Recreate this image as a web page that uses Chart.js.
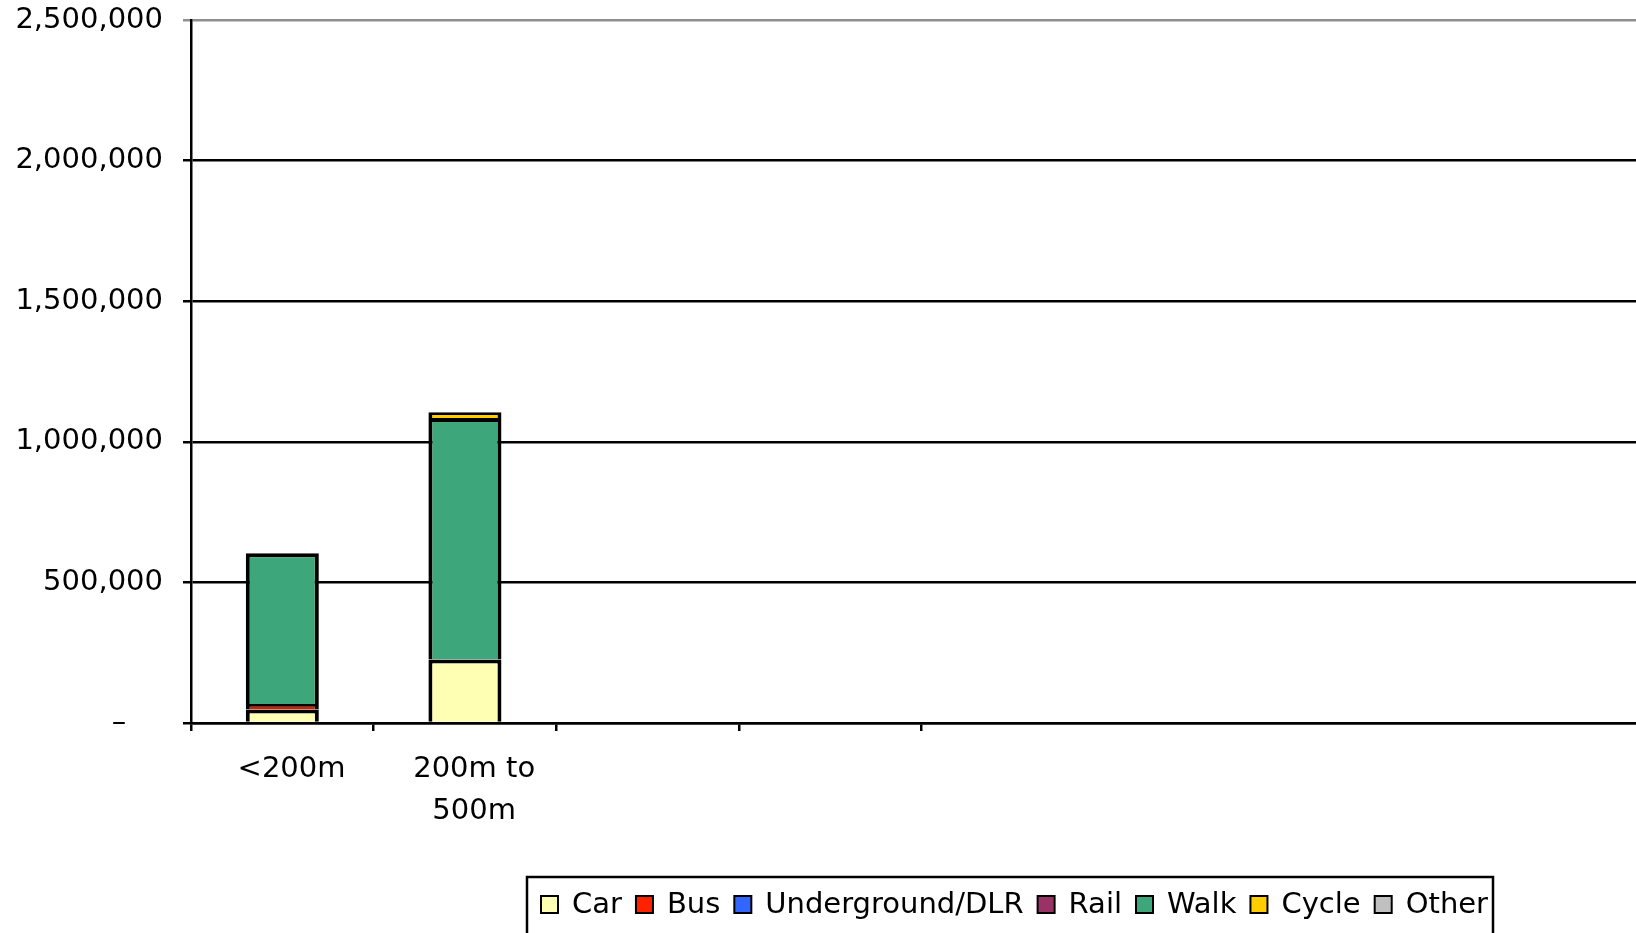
<!DOCTYPE html>
<html>
<head>
<meta charset="utf-8">
<style>
  html, body { margin: 0; padding: 0; overflow: hidden; background: #fff; }
  #wrap { position: absolute; left: 0; top: 0; width: 1652px; height: 933px; }
</style>
<script src="https://cdn.jsdelivr.net/npm/chart.js@4"></script>
</head>
<body>
<div id="wrap"><canvas id="chart"></canvas></div>
<script>
// ── Data ────────────────────────────────────────────────────────────────
// leading spaces nudge the labels a little right, as in the original
const categories = ['  <200m', ['  200m to', '  500m'], '', '', '', '', '', ''];
const yTicks     = [0, 500000, 1000000, 1500000, 2000000, 2500000];

const carTrips    = [48000, 226000];
const busTrips    = [20000, null];
const ugTrips     = [null, null];
const railTrips   = [null, null];
const walkTrips   = [536000, 859000];
const cycleTrips  = [null, 20000];
const otherTrips  = [null, null];

const modes = [
  { label: 'Car',              data: carTrips,   color: '#ffffb3' },
  { label: 'Bus',              data: busTrips,   color: '#cc2200' },
  { label: 'Underground/DLR',  data: ugTrips,    color: '#3366ff' },
  { label: 'Rail',             data: railTrips,  color: '#993366' },
  { label: 'Walk',             data: walkTrips,  color: '#3da67a' },
  { label: 'Cycle',            data: cycleTrips, color: '#ffcc00' },
  { label: 'Other',            data: otherTrips, color: '#c0c0c0' },
];
const legendColors = ['#ffffb3', '#ff2200', '#3366ff', '#993366', '#3da67a', '#ffcc00', '#c0c0c0'];

const FONT = '"DejaVu Sans", Verdana, sans-serif';
const FS   = 29;

// Legend drawn by hand so it can sit off-centre with a box round it
const boxedLegend = {
  id: 'boxedLegend',
  afterDraw(chart) {
    const ctx = chart.ctx;
    ctx.save();
    ctx.strokeStyle = '#000';
    ctx.lineWidth = 2.5;
    ctx.strokeRect(527, 877, 966, 80);
    ctx.font = FS + 'px ' + FONT;
    ctx.textBaseline = 'middle';
    let x = 541;
    const yc = 905;
    chart.data.datasets.forEach((ds, i) => {
      ctx.fillStyle = legendColors[i];
      ctx.fillRect(x, yc - 9, 17, 17);
      ctx.lineWidth = 2;
      ctx.strokeRect(x, yc - 9, 17, 17);
      x += 17 + 14;
      ctx.fillStyle = '#000';
      ctx.fillText(ds.label, x, yc);
      x += ctx.measureText(ds.label).width + 14;
    });
    ctx.restore();
  }
};

new Chart(document.getElementById('chart').getContext('2d'), {
  type: 'bar',
  data: {
    labels: categories,
    datasets: modes.map(m => ({
      label: m.label,
      data: m.data,
      backgroundColor: m.color,
      borderColor: '#000',
      borderWidth: 4,
      borderSkipped: 'start',
      barPercentage: 1,
      categoryPercentage: 0.4,
    }))
  },
  options: {
    responsive: true, maintainAspectRatio: false, animation: false,
    devicePixelRatio: 1,
    layout: { padding: { top: 20, right: 0, left: 0, bottom: 0 } },
    plugins: { legend: { display: false }, tooltip: { enabled: false } },
    scales: {
      x: {
        stacked: true,
        afterFit: s => { s.height = 210; s.paddingLeft = 0; s.paddingRight = 0; },
        border: { color: '#000', width: 2.5 },
        grid: {
          offset: true, drawOnChartArea: false, drawTicks: true, tickLength: 8, lineWidth: 2.5,
          color: c => (c.index <= 4 ? '#000' : 'rgba(0,0,0,0)')
        },
        ticks: { autoSkip: false, maxRotation: 0, padding: 17, color: '#000', font: { family: FONT, size: FS, lineHeight: 1.45 } }
      },
      y: {
        stacked: true,
        min: yTicks[0], max: yTicks[yTicks.length - 1],
        afterFit: s => { s.width = 191; s.paddingTop = 0; s.paddingBottom = 0; },
        afterBuildTicks: s => { s.ticks = yTicks.map(v => ({ value: v })); },
        border: { color: '#000', width: 2.5 },
        grid: {
          lineWidth: 2.5, tickLength: 8,
          color: c => (c.tick && c.tick.value === 2500000 ? '#8f8f8f' : '#000')
        },
        ticks: {
          padding: 20, color: '#000', font: { family: FONT, size: FS },
          callback: v => (v === 0 ? '–    ' : v.toLocaleString('en-US'))
        }
      }
    }
  },
  plugins: [boxedLegend]
});
</script>
</body>
</html>
